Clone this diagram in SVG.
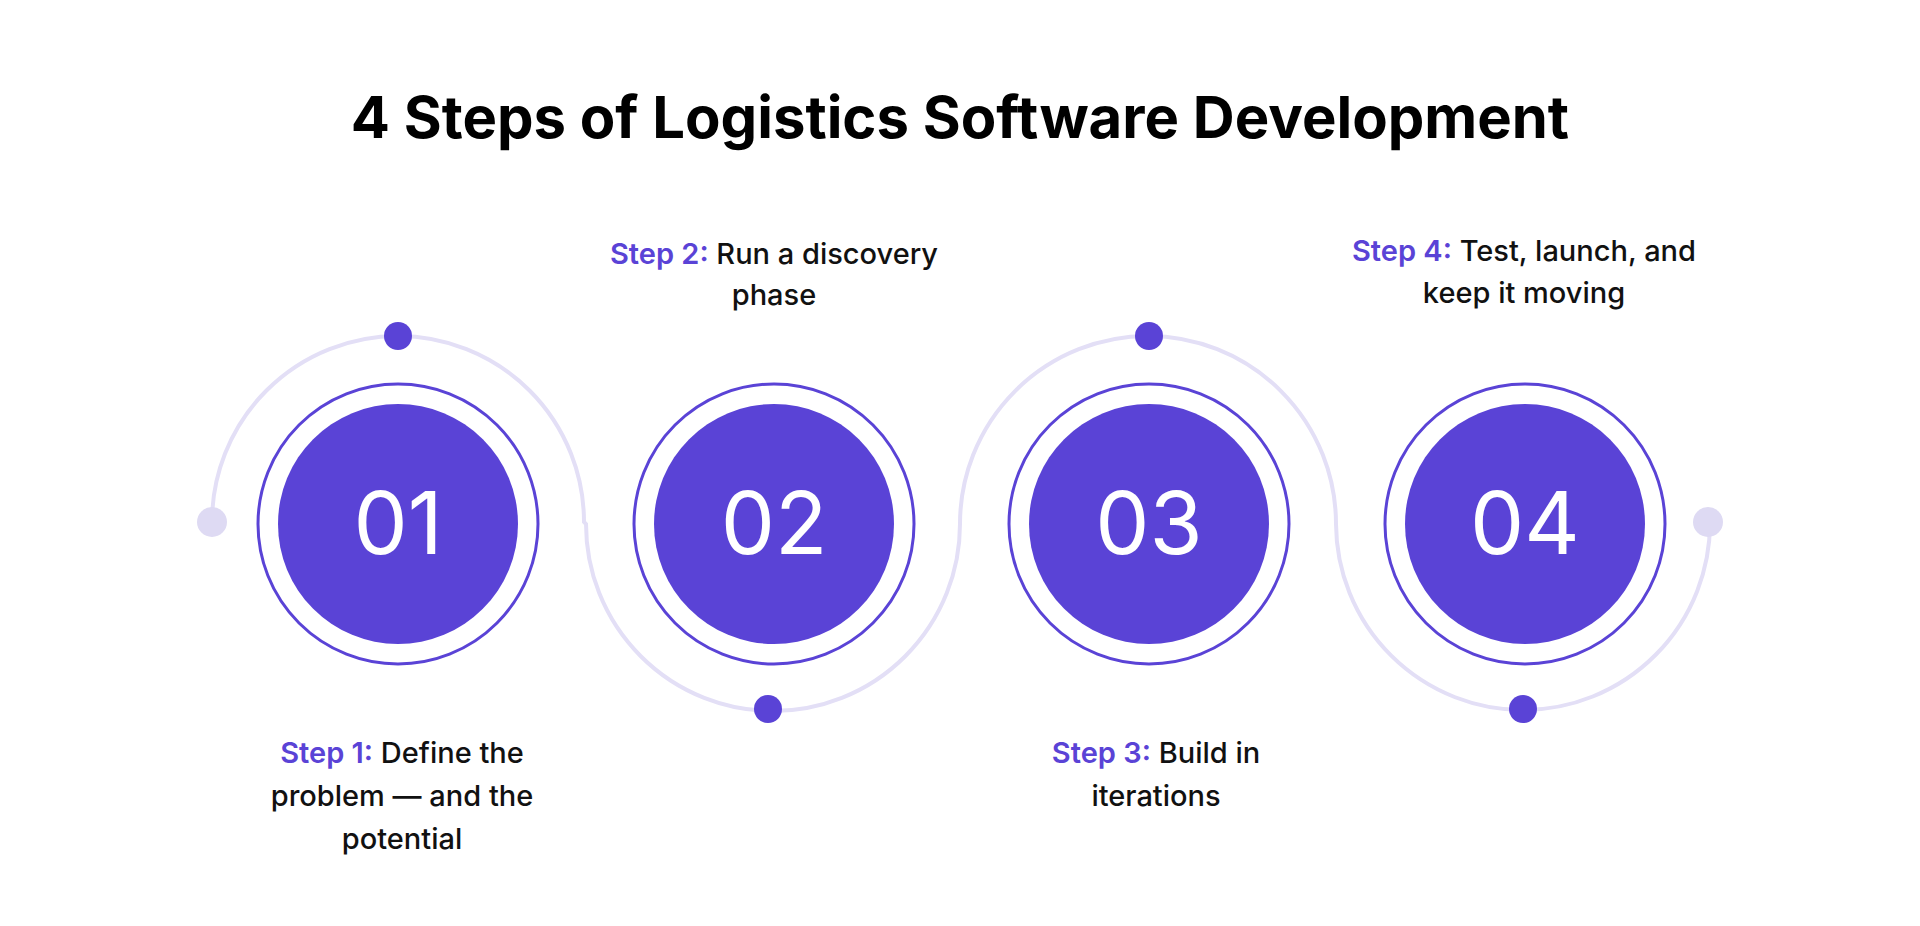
<svg xmlns="http://www.w3.org/2000/svg" width="1920" height="926" viewBox="0 0 1920 926">
<style>
.t{font-family:Inter,"Liberation Sans",sans-serif;font-size:29px;fill:#111;text-anchor:middle;font-weight:500}
.s{fill:#5A43D6;font-weight:600}
.n{font-family:Inter,"Liberation Sans",sans-serif;font-size:86px;fill:#fff;text-anchor:middle}
.ring{fill:none;stroke:#5A43D6;stroke-width:3}
.core{fill:#5A43D6}
.dot{fill:#5A43D6}
</style>
<rect width="1920" height="926" fill="#fff"/>
<text x="960" y="138" font-family="Inter,'Liberation Sans',sans-serif" font-size="58" font-weight="700" text-anchor="middle" fill="#000">4 Steps of Logistics Software Development</text>
<g id="connectors" fill="none" stroke="#E3DFF6" stroke-width="4">
<path d="M212 522 A186 186 0 0 1 584 522 L586 524 A186 186 0 0 0 960 524 A188 188 0 0 1 1336 524 A187 187 0 0 0 1710 522"/>
</g>
<circle cx="212" cy="522" r="15" fill="#DEDAF3"/>
<circle cx="1708" cy="522" r="15" fill="#DEDAF3"/>
<g id="n1"><circle class="ring" cx="398" cy="524" r="140"/><circle class="core" cx="398" cy="524" r="120"/><text class="n" x="398" y="554">01</text><circle class="dot" cx="398" cy="336" r="14"/></g>
<g id="n2"><circle class="ring" cx="774" cy="524" r="140"/><circle class="core" cx="774" cy="524" r="120"/><text class="n" x="774" y="554">02</text><circle class="dot" cx="768" cy="709" r="14"/></g>
<g id="n3"><circle class="ring" cx="1149" cy="524" r="140"/><circle class="core" cx="1149" cy="524" r="120"/><text class="n" x="1149" y="554">03</text><circle class="dot" cx="1149" cy="336" r="14"/></g>
<g id="n4"><circle class="ring" cx="1525" cy="524" r="140"/><circle class="core" cx="1525" cy="524" r="120"/><text class="n" x="1525" y="554">04</text><circle class="dot" cx="1523" cy="709" r="14"/></g>
<g id="l1"><text class="t" x="402" y="763"><tspan class="s">Step 1:</tspan> Define the</text><text class="t" x="402" y="806">problem — and the</text><text class="t" x="402" y="849">potential</text></g>
<g id="l2"><text class="t" x="774" y="264"><tspan class="s">Step 2:</tspan> Run a discovery</text><text class="t" x="774" y="305">phase</text></g>
<g id="l3"><text class="t" x="1156" y="763"><tspan class="s">Step 3:</tspan> Build in</text><text class="t" x="1156" y="806">iterations</text></g>
<g id="l4"><text class="t" x="1524" y="261"><tspan class="s">Step 4:</tspan> Test, launch, and</text><text class="t" x="1524" y="303">keep it moving</text></g>
</svg>
